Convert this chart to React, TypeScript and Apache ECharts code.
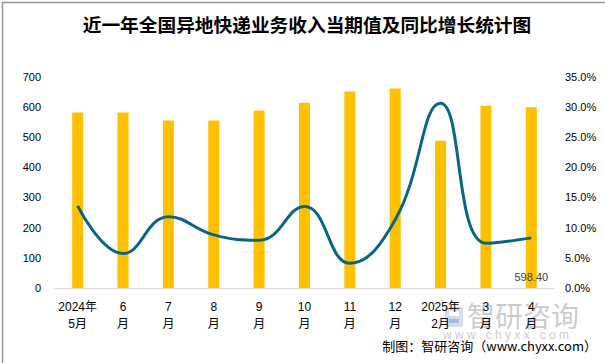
import React, { useEffect, useRef } from "react";
import * as echarts from "echarts";

const categories = ["2024年\n5月", "6\n月", "7\n月", "8\n月", "9\n月", "10\n月", "11\n月", "12\n月", "2025年\n2月", "3\n月", "4\n月"];
const revenue = [581, 581, 555, 555, 588, 614, 651, 661, 488, 604, 598.4];
const growth = [13.6, 5.7, 11.8, 8.8, 7.9, 13.5, 4.1, 11.3, 30.6, 7.4, 8.3];
const leftTicks = { min: 0, max: 700, interval: 100 };
const rightTicks = { min: 0, max: 35, interval: 5 };

const FONT = "'Liberation Sans', 'Noto Sans CJK SC', sans-serif";

export default function App() {
  const ref = useRef<HTMLDivElement>(null);
  useEffect(() => {
    if (!ref.current) return;
    const chart = echarts.init(ref.current, undefined, { renderer: "svg" });
    const lastIdx = revenue.length - 1;
    chart.setOption({
      animation: false,
      backgroundColor: "#ffffff",
      textStyle: { fontFamily: FONT },
      title: {
        text: "近一年全国异地快递业务收入当期值及同比增长统计图",
        left: 302,
        textAlign: "center",
        top: 9,
        textStyle: { fontSize: 18.7, fontWeight: "bold", color: "#000", fontFamily: "'Noto Sans CJK SC', sans-serif" },
      },
      grid: { left: 55, right: 51, top: 76.7, bottom: 75 },
      xAxis: {
        type: "category",
        data: categories,
        boundaryGap: true,
        axisLine: { lineStyle: { color: "#d9d9d9", width: 1 } },
        axisTick: { show: false },
        axisLabel: { color: "#000", fontSize: 12, lineHeight: 17, margin: 10, interval: 0, fontFamily: FONT },
      },
      yAxis: [
        {
          type: "value",
          ...leftTicks,
          axisLine: { show: false },
          axisTick: { show: false },
          splitLine: { show: false },
          axisLabel: { color: "#000", fontSize: 11, margin: 14, fontFamily: FONT },
        },
        {
          type: "value",
          ...rightTicks,
          position: "right",
          axisLine: { show: false },
          axisTick: { show: false },
          splitLine: { show: false },
          axisLabel: { color: "#000", fontSize: 11, margin: 11, fontFamily: FONT, formatter: (v: number) => v.toFixed(1) + "%" },
        },
      ],
      series: [
        {
          type: "bar",
          yAxisIndex: 0,
          barWidth: 11,
          itemStyle: { color: "#FFC000" },
          data: revenue.map((v, i) => ({
            value: v,
            label: i === lastIdx
              ? { show: true, position: "insideBottom", distance: 6, formatter: () => v.toFixed(2), color: "#404040", fontSize: 11, fontFamily: FONT }
              : { show: false },
          })),
          z: 2,
        },
        {
          type: "line",
          yAxisIndex: 1,
          data: growth,
          smooth: 0.45,
          symbol: "none",
          lineStyle: { color: "#0A6585", width: 3 },
          z: 3,
        },
      ],
      graphic: [
        {
          type: "group",
          left: 445,
          top: 307,
          silent: true,
          children: [
            { type: "rect", shape: { x: 0, y: 0, width: 18, height: 20 }, style: { fill: "rgba(150,170,200,0.4)" } },
            { type: "rect", shape: { x: 4, y: 4, width: 10, height: 5 }, style: { fill: "#ffffff" } },
            { type: "rect", shape: { x: 4, y: 12, width: 10, height: 4 }, style: { fill: "rgba(120,150,200,0.5)" } },
          ],
        },
        {
          type: "text",
          left: 467,
          top: 301,
          silent: true,
          style: { text: "智研咨询", fontSize: 28, fill: "rgba(160,160,160,0.55)", fontFamily: "'Noto Sans CJK SC', sans-serif" },
        },
        {
          type: "text",
          left: 443,
          top: 329,
          silent: true,
          style: { text: "w w w . c h y x x . c o m", fontSize: 12, fill: "rgba(160,160,160,0.55)", fontFamily: FONT },
        },
        {
          type: "text",
          right: 8,
          top: 339,
          style: { text: "制图：智研咨询（www.chyxx.com）", fontSize: 13, fill: "#000", fontFamily: "'Noto Sans CJK SC', sans-serif" },
        },
        {
          type: "rect",
          left: 0,
          top: 0,
          silent: true,
          shape: { x: 0, y: 0, width: 604, height: 362 },
          style: { fill: "none", stroke: "#999", lineWidth: 1.5 },
        },
      ],
    });
    return () => chart.dispose();
  }, []);
  return <div ref={ref} style={{ position: "fixed", left: 0, top: 0, width: 605, height: 363 }} />;
}
